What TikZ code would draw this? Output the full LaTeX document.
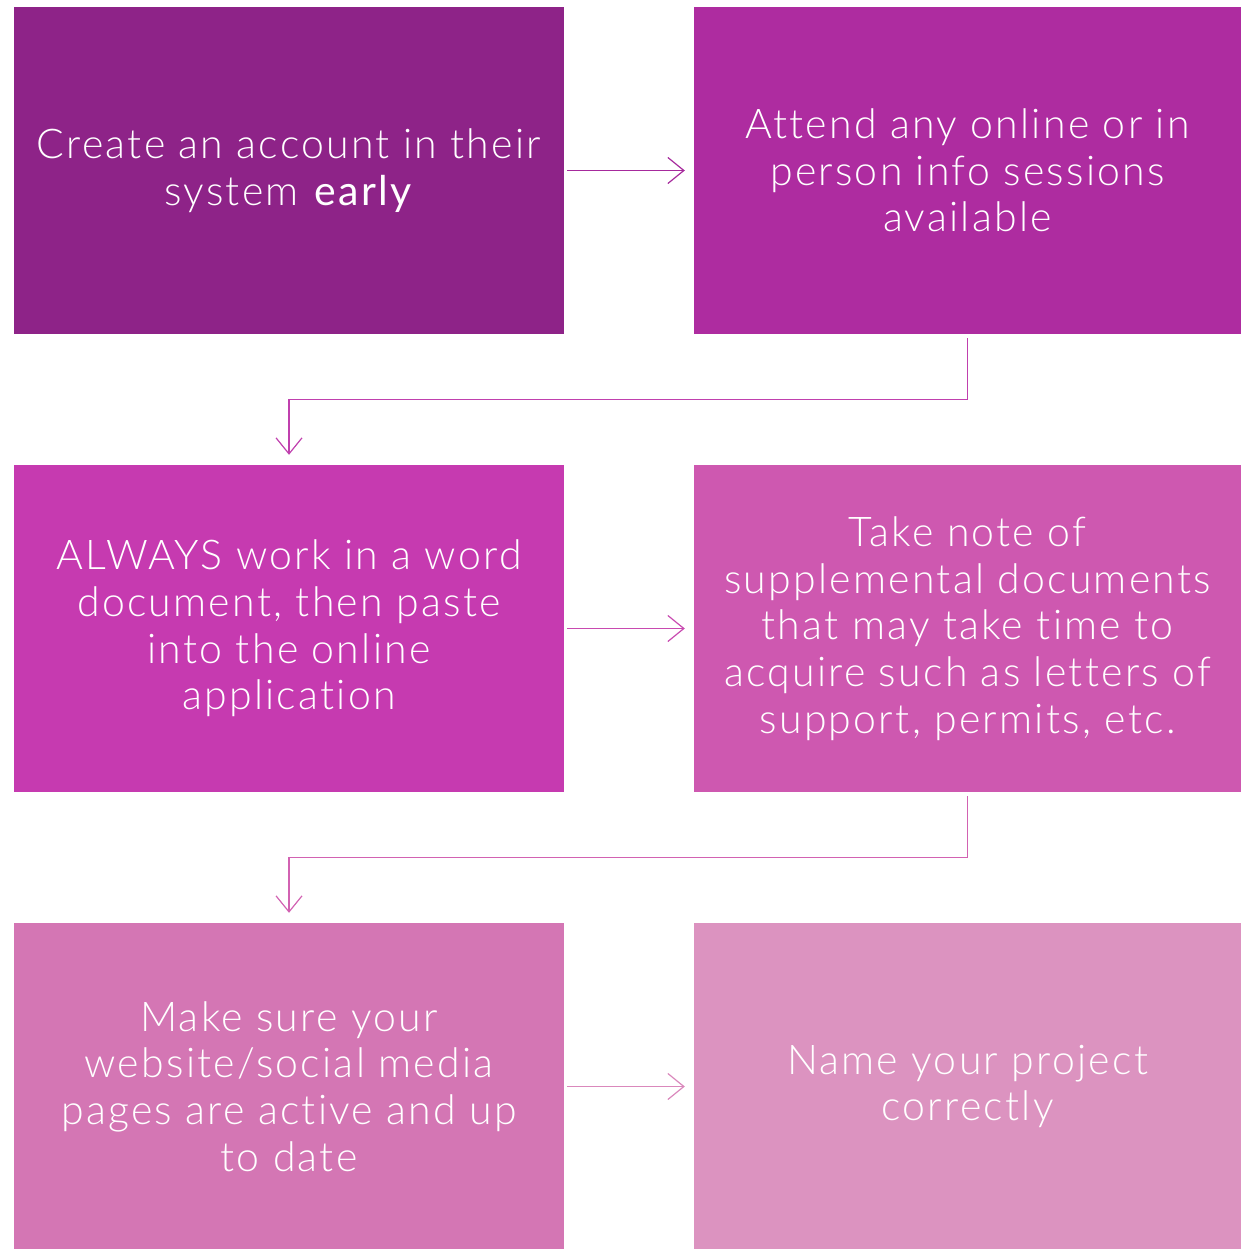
\documentclass[tikz,border=0pt]{standalone}
\usepackage{fontspec}
\setmainfont{Lato Light}[BoldFont={Lato}, LetterSpace=5.5, Ligatures=NoCommon]
\usetikzlibrary{arrows.meta}
\definecolor{cA}{HTML}{8E2388}
\definecolor{cB}{HTML}{AE2CA0}
\definecolor{cC}{HTML}{C63AB0}
\definecolor{cD}{HTML}{CE58B0}
\definecolor{cE}{HTML}{D476B4}
\definecolor{cF}{HTML}{DC93C0}
\definecolor{lA}{HTML}{A62A9C}
\definecolor{lB}{HTML}{C040AE}
\definecolor{lC}{HTML}{C84AB0}
\definecolor{lD}{HTML}{D262B2}
\definecolor{lE}{HTML}{DA88BC}
\tikzset{
  box/.style={draw=none, minimum width=550pt, minimum height=327pt, inner sep=0pt,
    text=white, align=center, font=\fontsize{41}{46.7}\selectfont},
  conn/.style={line width=1.2pt, -{Straight Barb[length=16pt,width=26pt,line width=1.2pt]}},
}
\begin{document}
\begin{tikzpicture}[x=1pt,y=-1pt]
\useasboundingbox (0,0) rectangle (1241,1249);
\node[box, fill=cA] (b1) at (289,170.5) {Create an account in their\\system \textbf{early}};
\node[box, fill=cB, minimum width=547pt] (b2) at (967.5,170.5) {Attend any online or in\\person info sessions\\available};
\node[box, fill=cC] (b3) at (289,628.5) {ALWAYS work in a word\\document, then paste\\into the online\\application};
\node[box, fill=cD, minimum width=547pt] (b4) at (967.5,628.5) {Take note of\\supplemental documents\\that may take time to\\acquire such as letters of\\support, permits, etc.};
\node[box, fill=cE] (b5) at (289,1086.5) {Make sure your\\website/social media\\pages are active and up\\to date};
\node[box, fill=cF, minimum width=547pt] (b6) at (967.5,1086.5) {Name your project\\correctly};
\draw[conn, lA] ([xshift=3pt]b1.east) -- ([xshift=-9pt]b2.west);
\draw[conn, lB] ([yshift=-4pt]b2.south) |- ([yshift=-65pt]b2.south) -| ([yshift=10pt]b3.north);
\draw[conn, lC] ([xshift=3pt]b3.east) -- ([xshift=-9pt]b4.west);
\draw[conn, lD] ([yshift=-4pt]b4.south) |- ([yshift=-65pt]b4.south) -| ([yshift=10pt]b5.north);
\draw[conn, lE] ([xshift=3pt]b5.east) -- ([xshift=-9pt]b6.west);
\end{tikzpicture}
\end{document}
